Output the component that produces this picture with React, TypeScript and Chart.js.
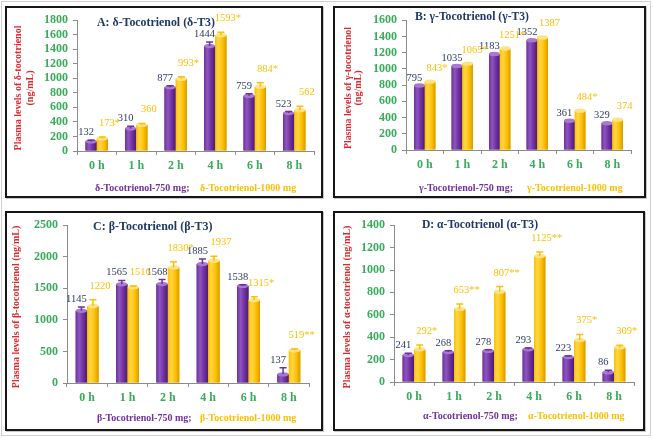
import React, { useEffect, useRef } from "react";
import { Chart, registerables } from "chart.js";
Chart.register(...registerables);

// ---------- data ----------
const hours = ["0 h", "1 h", "2 h", "4 h", "6 h", "8 h"];

const deltaLow = [132, 310, 877, 1444, 759, 523];
const deltaHigh = [173, 360, 993, 1593, 884, 562];
const deltaLowErr = [15, 30, 20, 55, 30, 20];
const deltaHighErr = [20, 20, 30, 40, 55, 55];
const deltaLowLbl = ["132", "310", "877", "1444", "759", "523"];
const deltaHighLbl = ["173*", "360", "993*", "1593*", "884*", "562"];

const gammaLow = [795, 1035, 1183, 1352, 361, 329];
const gammaHigh = [843, 1065, 1251, 1387, 484, 374];
const gammaLowErr = [0, 0, 0, 0, 0, 0];
const gammaHighErr = [0, 0, 0, 0, 0, 0];
const gammaLowLbl = ["795", "1035", "1183", "1352", "361", "329"];
const gammaHighLbl = ["843*", "1065*", "1251*", "1387", "484*", "374"];

const betaLow = [1145, 1565, 1568, 1885, 1538, 137];
const betaHigh = [1220, 1516, 1830, 1937, 1315, 519];
const betaLowErr = [60, 60, 70, 80, 20, 105];
const betaHighErr = [100, 20, 90, 70, 50, 20];
const betaLowLbl = ["1145", "1565", "1568", "1885", "1538", "137"];
const betaHighLbl = ["1220", "1516", "1830*", "1937", "1315*", "519**"];

const alphaLow = [241, 268, 278, 293, 223, 86];
const alphaHigh = [292, 653, 807, 1125, 375, 309];
const alphaLowErr = [15, 10, 10, 10, 10, 20];
const alphaHighErr = [38, 43, 45, 35, 50, 20];
const alphaLowLbl = ["241", "268", "278", "293", "223", "86"];
const alphaHighLbl = ["292*", "653**", "807**", "1125**", "375*", "309*"];

// ---------- styles ----------
const SERIF = "'Liberation Serif', 'Times New Roman', Times, serif";
const PURPLE = "#7030A0";
const GOLD = "#FFC000";
const GREEN = "#3AAA5C";
const RED = "#E0292E";
const NAVY = "#1F3864";
const LBL_DARK = "#2F3A66";

type Panel = {
  key: string;
  title: string;
  legLow: string;
  legHigh: string;
  yTitle: string[];
  max: number;
  step: number;
  low: number[];
  high: number[];
  lowErr: number[];
  highErr: number[];
  lowLbl: string[];
  highLbl: string[];
  box: { left: number; top: number; width: number; height: number };
  yWidth: number;
  padRight: number;
  padTop: number;
  xHeight: number;
  titlePos: [number, number, number];
  legPos: [number, number, number];
  yTitlePos: number[];
  yTitleW: number[];
  yTitleY: number;
};

const panels: Panel[] = [
  {
    key: "A",
    title: "A: δ-Tocotrienol (δ-T3)",
    legLow: "δ-Tocotrienol-750 mg;",
    legHigh: "δ-Tocotrienol-1000 mg",
    yTitle: ["Plasma levels of δ-tocotrienol", "(ng/mL)"],
    max: 1800,
    step: 200,
    low: deltaLow,
    high: deltaHigh,
    lowErr: deltaLowErr,
    highErr: deltaHighErr,
    lowLbl: deltaLowLbl,
    highLbl: deltaHighLbl,
    box: { left: 5, top: 6, width: 318, height: 192 },
    yWidth: 70,
    padRight: 7,
    padTop: 11,
    xHeight: 45,
    titlePos: [90, 15, 118],
    legPos: [88, 193, 180],
    yTitlePos: [11, 23],
    yTitleW: [125, 40],
    yTitleY: 80,
  },
  {
    key: "B",
    title: "B: γ-Tocotrienol (γ-T3)",
    legLow: "γ-Tocotrienol-750 mg;",
    legHigh: "γ-Tocotrienol-1000 mg",
    yTitle: ["Plasma levels of γ-tocotrienol", "(ng/mL)"],
    max: 1600,
    step: 200,
    low: gammaLow,
    high: gammaHigh,
    lowErr: gammaLowErr,
    highErr: gammaHighErr,
    lowLbl: gammaLowLbl,
    highLbl: gammaHighLbl,
    box: { left: 333, top: 6, width: 313, height: 192 },
    yWidth: 71,
    padRight: 13,
    padTop: 10,
    xHeight: 46,
    titlePos: [80, 9, 114],
    legPos: [84, 192, 180],
    yTitlePos: [13, 23],
    yTitleW: [122, 40],
    yTitleY: 80,
  },
  {
    key: "C",
    title: "C: β-Tocotrienol (β-T3)",
    legLow: "β-Tocotrienol-750 mg;",
    legHigh: "β-Tocotrienol-1000 mg",
    yTitle: ["Plasma levels of β-tocotrienol (ng/mL)"],
    max: 2500,
    step: 500,
    low: betaLow,
    high: betaHigh,
    lowErr: betaLowErr,
    highErr: betaHighErr,
    lowLbl: betaLowLbl,
    highLbl: betaHighLbl,
    box: { left: 5, top: 211, width: 318, height: 220 },
    yWidth: 60,
    padRight: 12,
    padTop: 9,
    xHeight: 46,
    titlePos: [86, 14, 122],
    legPos: [90, 193, 205],
    yTitlePos: [9],
    yTitleW: [170],
    yTitleY: 94,
  },
  {
    key: "D",
    title: "D: α-Tocotrienol (α-T3)",
    legLow: "α-Tocotrienol-750 mg;",
    legHigh: "α-Tocotrienol-1000 mg",
    yTitle: ["Plasma levels of α-tocotrienol (ng/mL)"],
    max: 1400,
    step: 200,
    low: alphaLow,
    high: alphaHigh,
    lowErr: alphaLowErr,
    highErr: alphaHighErr,
    lowLbl: alphaLowLbl,
    highLbl: alphaHighLbl,
    box: { left: 333, top: 211, width: 312, height: 220 },
    yWidth: 59,
    padRight: 9,
    padTop: 8,
    xHeight: 47,
    titlePos: [87, 12, 116],
    legPos: [88, 193, 203],
    yTitlePos: [12],
    yTitleW: [171],
    yTitleY: 94,
  },
];

const shades: Record<string, { light: string; mid: string; dark: string; cap: string }> = {
  [PURPLE]: { light: "#8E55BE", mid: "#7030A0", dark: "#4A1C72", cap: "#A57AD0" },
  [GOLD]: { light: "#FFD54A", mid: "#FFC000", dark: "#D99A00", cap: "#FFE38A" },
};

function makeDecor(p: Panel) {
  return {
    id: "decor" + p.key,
    afterDatasetsDraw(chart: any) {
      const ctx: CanvasRenderingContext2D = chart.ctx;
      const ys = chart.scales.y;
      ctx.save();
      // 3D bars + error bars
      chart.data.datasets.forEach((ds: any, di: number) => {
        const meta = chart.getDatasetMeta(di);
        const errs = di === 0 ? p.lowErr : p.highErr;
        const s = shades[ds.backgroundColor];
        meta.data.forEach((bar: any, i: number) => {
          const { x, y, base, width } = bar.getProps(["x", "y", "base", "width"], true);
          const l = x - width / 2;
          const g = ctx.createLinearGradient(l, 0, l + width, 0);
          g.addColorStop(0, s.mid);
          g.addColorStop(0.3, s.light);
          g.addColorStop(0.65, s.mid);
          g.addColorStop(1, s.dark);
          ctx.fillStyle = g;
          ctx.fillRect(l, y, width, base - y);
          ctx.beginPath();
          ctx.ellipse(x, y, width / 2, 2.2, 0, 0, Math.PI * 2);
          ctx.fillStyle = s.cap;
          ctx.fill();
          const e = errs[i];
          if (e > 0) {
            const v = ds.data[i];
            const yt = ys.getPixelForValue(v + e);
            ctx.strokeStyle = s.mid;
            ctx.lineWidth = 1.5;
            ctx.beginPath();
            ctx.moveTo(x, y);
            ctx.lineTo(x, yt);
            ctx.moveTo(x - 3.5, yt);
            ctx.lineTo(x + 3.5, yt);
            ctx.stroke();
          }
        });
      });
      // value labels
      ctx.font = `10.5px ${SERIF}`;
      ctx.textAlign = "center";
      ctx.textBaseline = "alphabetic";
      chart.data.datasets.forEach((ds: any, di: number) => {
        const meta = chart.getDatasetMeta(di);
        const errs = di === 0 ? p.lowErr : p.highErr;
        const lbls = di === 0 ? p.lowLbl : p.highLbl;
        meta.data.forEach((bar: any, i: number) => {
          const { x } = bar.getProps(["x"], true);
          const yt = ys.getPixelForValue(ds.data[i] + errs[i]);
          if (di === 0) {
            ctx.fillStyle = LBL_DARK;
            ctx.fillText(lbls[i], x - 5, yt - 5);
          } else {
            ctx.fillStyle = GOLD;
            ctx.fillText(lbls[i], x + 7, yt - 11);
          }
        });
      });
      // panel title
      ctx.font = `bold 12px ${SERIF}`;
      ctx.textAlign = "left";
      ctx.textBaseline = "middle";
      ctx.fillStyle = NAVY;
      ctx.fillText(p.title, p.titlePos[0], p.titlePos[1], p.titlePos[2]);
      // legend text
      ctx.font = `bold 10px ${SERIF}`;
      ctx.fillStyle = PURPLE;
      ctx.fillText(p.legLow, p.legPos[0], p.legPos[2]);
      ctx.fillStyle = GOLD;
      ctx.fillText(p.legHigh, p.legPos[1], p.legPos[2]);
      // y-axis title
      ctx.font = `bold 10px ${SERIF}`;
      ctx.fillStyle = RED;
      ctx.textAlign = "center";
      p.yTitle.forEach((t, k) => {
        ctx.save();
        ctx.translate(p.yTitlePos[k], p.yTitleY);
        ctx.rotate(-Math.PI / 2);
        ctx.fillText(t, 0, 0, p.yTitleW[k]);
        ctx.restore();
      });
      ctx.restore();
    },
  };
}

function PanelChart({ p }: { p: Panel }) {
  const ref = useRef<HTMLCanvasElement | null>(null);
  const cw = p.box.width - 4;
  const chh = p.box.height - 4;
  useEffect(() => {
    if (!ref.current) return;
    const chart = new Chart(ref.current, {
      type: "bar",
      data: {
        labels: hours,
        datasets: [
          { data: p.low, backgroundColor: PURPLE, borderWidth: 0 },
          { data: p.high, backgroundColor: GOLD, borderWidth: 0 },
        ],
      },
      options: {
        responsive: false,
        animation: false,
        devicePixelRatio: 1,
        layout: { padding: { top: p.padTop, right: p.padRight, left: 0, bottom: 0 } },
        datasets: { bar: { categoryPercentage: 0.57, barPercentage: 1.0 } },
        plugins: { legend: { display: false }, tooltip: { enabled: false }, title: { display: false } },
        scales: {
          x: {
            grid: { display: true, drawOnChartArea: false, drawTicks: true, tickLength: 4, color: "#8C8C8C", offset: true },
            border: { display: true, color: "#8C8C8C" },
            ticks: { color: GREEN, font: { family: SERIF, size: 12, weight: "bold" }, padding: 4, autoSkip: false, maxRotation: 0 },
            afterFit: (s: any) => { s.height = p.xHeight; },
          },
          y: {
            min: 0,
            max: p.max,
            grid: { display: true, drawOnChartArea: false, drawTicks: true, tickLength: 4, color: "#8C8C8C" },
            border: { display: true, color: "#8C8C8C" },
            ticks: {
              stepSize: p.step,
              autoSkip: false,
              color: GREEN,
              font: { family: SERIF, size: 12, weight: "bold" },
              padding: 5,
              callback: (v: any) => String(v),
            },
            afterFit: (s: any) => { s.width = p.yWidth; },
          },
        },
      },
      plugins: [makeDecor(p)],
    } as any);
    return () => chart.destroy();
  }, []);
  return (
    <div
      style={{
        position: "absolute",
        left: p.box.left,
        top: p.box.top,
        width: p.box.width,
        height: p.box.height,
        boxSizing: "border-box",
        border: "2px solid #161616",
        background: "#fff",
        boxShadow: "1px 1px 0 #c8c8c8",
      }}
    >
      <canvas ref={ref} width={cw} height={chh} style={{ display: "block", width: cw, height: chh }} />
    </div>
  );
}

export default function App() {
  return (
    <div style={{ position: "absolute", left: 0, top: 0, width: 653, height: 438, background: "#fff", overflow: "hidden" }}>
      <div
        style={{
          position: "absolute",
          left: 1,
          top: 1,
          width: 650,
          height: 435,
          boxSizing: "border-box",
          border: "1px solid #d0d0d0",
        }}
      />
      {panels.map((p) => (
        <PanelChart key={p.key} p={p} />
      ))}
    </div>
  );
}
